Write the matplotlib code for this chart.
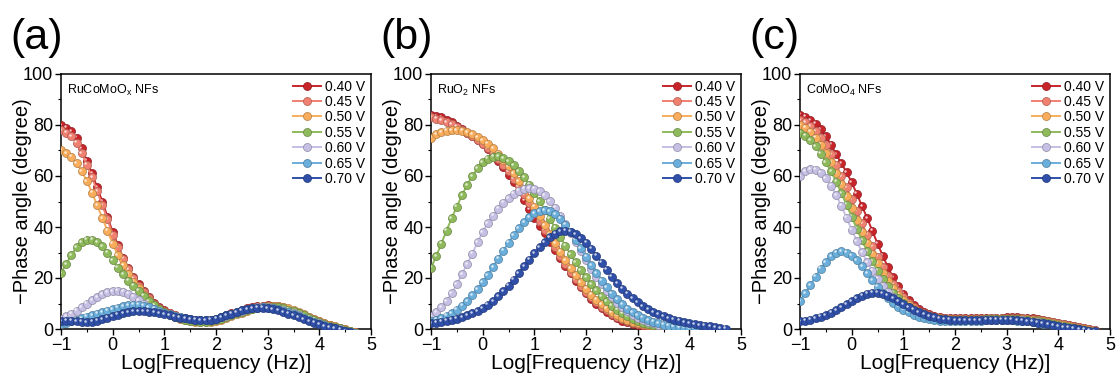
import numpy as np
import matplotlib
matplotlib.use("Agg")
import matplotlib.pyplot as plt
from matplotlib import transforms as mtransforms
from matplotlib.colors import to_rgb

plt.rcParams['font.family'] = ['Liberation Sans', 'DejaVu Sans']
plt.rcParams['mathtext.fontset'] = 'custom'
plt.rcParams['mathtext.rm'] = 'Liberation Sans'
plt.rcParams['mathtext.it'] = 'Liberation Sans'

# ---------------- data ----------------
log_freq = [-1.0, -0.9, -0.8, -0.7, -0.6, -0.5, -0.4, -0.3, -0.2, -0.1,
            0.0, 0.1, 0.2, 0.3, 0.4, 0.5, 0.6, 0.7, 0.8, 0.9,
            1.0, 1.1, 1.2, 1.3, 1.4, 1.5, 1.6, 1.7, 1.8, 1.9,
            2.0, 2.1, 2.2, 2.3, 2.4, 2.5, 2.6, 2.7, 2.8, 2.9,
            3.0, 3.1, 3.2, 3.3, 3.4, 3.5, 3.6, 3.7, 3.8, 3.9,
            4.0, 4.1, 4.2, 4.3, 4.4, 4.5, 4.6, 4.7]

potentials = ["0.40 V", "0.45 V", "0.50 V", "0.55 V", "0.60 V", "0.65 V", "0.70 V"]
colors = ["#c8252b", "#f08070", "#f9ad5c", "#8fba5c", "#c5c0e4", "#6aaedb", "#2f4fa8"]

# (a) RuCoMoOx NFs
a_040 = [80, 79, 77.5, 75, 71, 66, 61, 55.5, 50, 44,
         38, 33, 28, 24, 20.5, 17.5, 15, 12.5, 10.3, 8.6,
         7.3, 6.3, 5.5, 4.9, 4.4, 4.0, 3.7, 3.5, 3.5, 3.7,
         4.1, 4.7, 5.4, 6.1, 6.8, 7.5, 8.1, 8.6, 9.0, 9.2,
         9.3, 9.2, 8.9, 8.4, 7.8, 7.0, 6.2, 5.3, 4.5, 3.7,
         2.9, 2.1, 1.4, 0.8, 0.3, -0.2, -0.8, -1.4]
a_045 = [78, 77, 75.5, 73, 69, 64.5, 59.5, 54, 48.5, 43,
         37, 32, 27.5, 23.5, 20, 17, 14.5, 12, 10, 8.4,
         7.1, 6.1, 5.3, 4.7, 4.2, 3.8, 3.5, 3.3, 3.3, 3.5,
         3.9, 4.4, 5.1, 5.8, 6.5, 7.2, 7.8, 8.4, 8.8, 9.1,
         9.2, 9.2, 8.9, 8.5, 7.9, 7.1, 6.3, 5.4, 4.6, 3.8,
         3.0, 2.2, 1.5, 0.9, 0.4, -0.1, -0.7, -1.3]
a_050 = [70, 69, 67.5, 65, 62, 58, 53.5, 48.5, 43.5, 38.5,
         33.5, 29, 25, 21.5, 18.5, 16, 13.5, 11.3, 9.4, 7.9,
         6.6, 5.6, 4.8, 4.1, 3.6, 3.2, 2.9, 2.7, 2.7, 2.9,
         3.2, 3.7, 4.3, 5.0, 5.7, 6.4, 7.1, 7.7, 8.2, 8.6,
         8.9, 9.0, 8.9, 8.6, 8.1, 7.4, 6.6, 5.8, 4.9, 4.0,
         3.2, 2.4, 1.7, 1.0, 0.5, 0.0, -0.6, -1.2]
a_055 = [22, 25.5, 29, 32, 34, 35, 35, 34, 32.5, 30,
         27, 24, 21.5, 19, 17, 15, 13, 11, 9.3, 7.8,
         6.6, 5.6, 4.8, 4.2, 3.7, 3.3, 3.0, 2.9, 2.9, 3.1,
         3.5, 4.0, 4.7, 5.4, 6.1, 6.8, 7.4, 8.0, 8.4, 8.7,
         8.8, 8.8, 8.6, 8.2, 7.6, 6.9, 6.1, 5.3, 4.4, 3.6,
         2.8, 2.0, 1.3, 0.7, 0.2, -0.3, -0.9, -1.5]
a_060 = [4, 5, 6, 7.2, 8.5, 10, 11.3, 12.5, 13.6, 14.4,
         14.9, 15, 14.6, 13.8, 12.6, 11.2, 9.9, 8.7, 7.7, 6.8,
         6.1, 5.5, 5.0, 4.6, 4.2, 3.9, 3.6, 3.4, 3.4, 3.6,
         4.0, 4.6, 5.2, 5.9, 6.6, 7.2, 7.8, 8.2, 8.5, 8.6,
         8.6, 8.4, 8.0, 7.5, 6.8, 6.1, 5.3, 4.5, 3.7, 2.9,
         2.2, 1.5, 0.9, 0.4, -0.1, -0.6, -1.1, -1.6]
a_065 = [2, 2.5, 3, 3.6, 4.2, 4.8, 5.4, 6.0, 6.6, 7.2,
         7.8, 8.4, 8.9, 9.3, 9.5, 9.5, 9.2, 8.6, 7.9, 7.1,
         6.4, 5.7, 5.1, 4.6, 4.2, 3.9, 3.6, 3.4, 3.4, 3.6,
         4.0, 4.6, 5.3, 6.0, 6.7, 7.3, 7.8, 8.2, 8.4, 8.5,
         8.4, 8.2, 7.8, 7.2, 6.6, 5.9, 5.1, 4.3, 3.5, 2.8,
         2.1, 1.4, 0.8, 0.3, -0.2, -0.7, -1.2, -1.7]
a_070 = [3, 3.2, 3.2, 3.0, 2.8, 2.7, 2.8, 3.2, 3.8, 4.4,
         5.0, 5.6, 6.2, 6.7, 7.0, 7.1, 7.0, 6.8, 6.5, 6.1,
         5.7, 5.3, 4.9, 4.5, 4.2, 3.9, 3.6, 3.4, 3.4, 3.6,
         4.0, 4.6, 5.3, 6.0, 6.7, 7.3, 7.8, 8.1, 8.3, 8.3,
         8.1, 7.8, 7.3, 6.7, 6.0, 5.3, 4.6, 3.8, 3.1, 2.4,
         1.8, 1.2, 0.7, 0.2, -0.3, -0.8, -1.3, -1.8]

# (b) RuO2 NFs
b_040 = [84, 83.5, 83, 82, 81, 79.8, 78.5, 77, 75.5, 74,
         72.5, 70.5, 68.5, 66, 63.5, 60.5, 57.5, 54, 50.5, 47,
         43.5, 40.5, 37.5, 34, 30.8, 27.7, 24.7, 21.8, 19.0, 16.4,
         14.0, 11.8, 9.8, 8.1, 6.6, 5.3, 4.2, 3.3, 2.6, 2.0,
         1.5, 1.1, 0.8, 0.5, 0.3, 0.1, 0.0, -0.2, -0.4, -0.6,
         -0.8, -1.0, -1.2, -1.4, -1.6, -1.8, -2.0, -2.2]
b_045 = [83, 82.5, 82, 81.2, 80.3, 79.3, 78.2, 77, 75.6, 74.2,
         72.7, 71, 69, 66.8, 64.4, 61.8, 59, 56, 52.8, 49.5,
         46, 42.5, 39, 35.5, 32, 28.7, 25.5, 22.4, 19.6, 17,
         14.6, 12.4, 10.5, 8.8, 7.3, 6.0, 4.9, 4.0, 3.2, 2.5,
         2.0, 1.5, 1.1, 0.8, 0.5, 0.3, 0.1, 0.0, -0.2, -0.4,
         -0.6, -0.8, -1.0, -1.2, -1.4, -1.6, -1.8, -2.0]
b_050 = [75, 76.3, 77.2, 77.8, 78, 78, 77.7, 77.1, 76.3, 75.3,
         74.1, 72.6, 70.8, 68.7, 66.4, 63.8, 61, 58, 54.8, 51.4,
         48, 44.4, 40.8, 37.2, 33.7, 30.3, 27, 23.9, 21, 18.3,
         15.8, 13.5, 11.5, 9.7, 8.1, 6.7, 5.5, 4.5, 3.6, 2.9,
         2.3, 1.8, 1.4, 1.0, 0.7, 0.5, 0.3, 0.1, 0.0, -0.2,
         -0.4, -0.6, -0.8, -1.0, -1.2, -1.4, -1.6, -1.8]
b_055 = [24, 28.5, 33.5, 38.5, 43.5, 48, 52.5, 56.5, 60, 63,
         65.3, 66.8, 67.6, 67.7, 67.1, 65.9, 64.2, 62, 59.5, 56.6,
         53.5, 50.2, 46.8, 43.3, 39.7, 36.2, 32.7, 29.3, 26.1, 23.1,
         20.2, 17.5, 15.1, 12.9, 10.9, 9.1, 7.6, 6.2, 5.0, 4.0,
         3.2, 2.5, 1.9, 1.4, 1.0, 0.7, 0.5, 0.3, 0.1, 0.0,
         -0.2, -0.4, -0.6, -0.8, -1.0, -1.2, -1.4, -1.6]
b_060 = [5, 6.5, 8.5, 11, 14, 17.5, 21.5, 25.5, 29.5, 34,
         38, 41.5, 44.5, 47.2, 49.5, 51.4, 53, 54.2, 55, 55.3,
         55, 54, 52.4, 50.2, 47.5, 44.4, 41, 37.5, 34, 30.5,
         27, 23.6, 20.4, 17.5, 14.8, 12.4, 10.3, 8.5, 6.9, 5.6,
         4.5, 3.6, 2.8, 2.2, 1.7, 1.3, 0.9, 0.6, 0.4, 0.2,
         0.1, 0.0, -0.2, -0.4, -0.6, -0.8, -1.0, -1.2]
b_065 = [3, 3.6, 4.3, 5.2, 6.3, 7.6, 9.2, 11, 13.2, 15.6,
         18.3, 21.2, 24.3, 27.5, 30.7, 33.8, 36.8, 39.5, 41.8, 43.8,
         45.3, 46.3, 46.6, 46.2, 45.1, 43.3, 40.9, 38.1, 35, 31.7,
         28.4, 25.1, 22, 19, 16.3, 13.8, 11.6, 9.7, 8, 6.6,
         5.4, 4.4, 3.5, 2.8, 2.2, 1.7, 1.3, 1.0, 0.7, 0.5,
         0.3, 0.2, 0.1, 0.0, -0.2, -0.4, -0.6, -0.8]
b_070 = [2.2, 2.5, 2.8, 3.2, 3.6, 4.1, 4.7, 5.4, 6.2, 7.1,
         8.2, 9.5, 11, 12.8, 14.8, 17, 19.4, 22, 24.6, 27.2,
         29.7, 32, 34.1, 35.9, 37.3, 38.3, 38.6, 38.2, 37.1, 35.6,
         33.8, 31.5, 28.8, 26, 23.2, 20.5, 18, 15.8, 13.8, 12,
         10.4, 9, 7.8, 6.7, 5.8, 5.0, 4.3, 3.7, 3.2, 2.7,
         2.3, 1.9, 1.6, 1.3, 1.0, 0.7, 0.4, 0.1]

# (c) CoMoO4 NFs
c_040 = [84, 83.2, 82, 80.5, 78.3, 75.5, 72.3, 68.5, 65, 61.5,
         57.5, 53, 48.2, 43.5, 38.5, 33.5, 28.8, 24.3, 20.3, 16.8,
         13.8, 11.4, 9.4, 7.8, 6.6, 5.7, 5.1, 4.7, 4.5, 4.4,
         4.3, 4.3, 4.3, 4.3, 4.3, 4.3, 4.4, 4.4, 4.5, 4.5,
         4.6, 4.6, 4.6, 4.5, 4.4, 4.2, 3.9, 3.6, 3.3, 2.9,
         2.5, 2.1, 1.6, 1.2, 0.8, 0.4, 0.0, -0.4]
c_045 = [82, 81, 79.5, 77.5, 75, 72, 68.5, 64.5, 60, 55.5,
         51, 46.3, 41.6, 37, 32.5, 28.3, 24.4, 20.8, 17.6, 14.8,
         12.4, 10.3, 8.6, 7.2, 6.1, 5.3, 4.8, 4.4, 4.2, 4.1,
         4.0, 4.0, 4.0, 4.0, 4.0, 4.1, 4.1, 4.2, 4.2, 4.3,
         4.3, 4.3, 4.3, 4.2, 4.1, 3.9, 3.7, 3.4, 3.1, 2.7,
         2.3, 1.9, 1.5, 1.1, 0.7, 0.3, -0.1, -0.5]
c_050 = [80, 79, 77.3, 75, 72.3, 69, 65.3, 61.2, 56.8, 52.2,
         47.5, 42.8, 38.2, 33.8, 29.6, 25.7, 22.1, 18.9, 16, 13.5,
         11.3, 9.5, 8, 6.8, 5.8, 5.1, 4.6, 4.2, 4.0, 3.9,
         3.8, 3.8, 3.8, 3.8, 3.8, 3.9, 3.9, 4.0, 4.0, 4.1,
         4.1, 4.1, 4.1, 4.0, 3.9, 3.7, 3.5, 3.2, 2.9, 2.5,
         2.1, 1.7, 1.3, 0.9, 0.5, 0.1, -0.3, -0.7]
c_055 = [77, 75.8, 74, 71.7, 68.8, 65.5, 61.8, 57.7, 53.3, 48.7,
         44, 39.3, 34.8, 30.5, 26.5, 22.9, 19.6, 16.7, 14.2, 12,
         10.1, 8.5, 7.2, 6.1, 5.3, 4.7, 4.2, 3.9, 3.7, 3.6,
         3.6, 3.6, 3.6, 3.6, 3.7, 3.7, 3.8, 3.8, 3.9, 3.9,
         3.9, 3.9, 3.8, 3.7, 3.5, 3.3, 3.0, 2.7, 2.3, 1.9,
         1.5, 1.1, 0.7, 0.3, -0.1, -0.5, -0.9, -1.3]
c_060 = [60, 62, 62.7, 62.5, 61.3, 59.2, 56.2, 52.5, 48.3, 43.7,
         39, 34.5, 30.2, 26.3, 22.8, 19.7, 17, 14.6, 12.5, 10.7,
         9.1, 7.8, 6.7, 5.8, 5.0, 4.4, 4.0, 3.7, 3.5, 3.4,
         3.4, 3.4, 3.4, 3.4, 3.5, 3.5, 3.6, 3.6, 3.7, 3.7,
         3.7, 3.6, 3.5, 3.4, 3.2, 2.9, 2.6, 2.3, 1.9, 1.5,
         1.1, 0.7, 0.4, 0.0, -0.3, -0.7, -1.1, -1.5]
c_065 = [11, 14, 17.2, 20.5, 23.6, 26.3, 28.5, 29.9, 30.4, 30,
         28.8, 27, 24.7, 22, 19.2, 16.6, 14.2, 12.1, 10.3, 8.8,
         7.5, 6.5, 5.6, 4.9, 4.3, 3.9, 3.5, 3.3, 3.1, 3.1,
         3.1, 3.1, 3.2, 3.2, 3.3, 3.3, 3.4, 3.4, 3.5, 3.5,
         3.5, 3.4, 3.3, 3.2, 3.0, 2.7, 2.4, 2.1, 1.8, 1.4,
         1.0, 0.7, 0.3, 0.0, -0.4, -0.8, -1.2, -1.6]
c_070 = [3, 3.3, 3.7, 4.2, 4.8, 5.5, 6.4, 7.4, 8.5, 9.7,
         10.9, 12, 13, 13.8, 14.2, 14.2, 13.8, 13, 12, 10.9,
         9.7, 8.6, 7.5, 6.6, 5.8, 5.1, 4.6, 4.1, 3.8, 3.6,
         3.5, 3.4, 3.4, 3.4, 3.5, 3.5, 3.6, 3.6, 3.7, 3.7,
         3.7, 3.6, 3.5, 3.3, 3.1, 2.8, 2.5, 2.2, 1.8, 1.5,
         1.1, 0.8, 0.5, 0.2, 0.0, -0.3, -0.6, -0.9]

panels = [
    ("(a)", "RuCoMoO$_\\mathregular{x}$ NFs", [a_040, a_045, a_050, a_055, a_060, a_065, a_070]),
    ("(b)", "RuO$_\\mathregular{2}$ NFs", [b_040, b_045, b_050, b_055, b_060, b_065, b_070]),
    ("(c)", "CoMoO$_\\mathregular{4}$ NFs", [c_040, c_045, c_050, c_055, c_060, c_065, c_070]),
]

# ---------------- figure ----------------
W, H = 1117, 376
fig = plt.figure(figsize=(W / 100, H / 100), dpi=100)

ax_lefts = [61, 431, 800]
ax_w = 310
ax_top, ax_bot = 74, 329


def darker(c, f=0.72):
    r, g, b = to_rgb(c)
    return (r * f, g * f, b * f)


for (letter, label, series), left in zip(panels, ax_lefts):
    ax = fig.add_axes([left / W, (H - ax_bot) / H, ax_w / W, (ax_bot - ax_top) / H])
    hl_trans = mtransforms.offset_copy(ax.transData, fig=fig, x=-1.0, y=1.0, units='points')
    handles = []
    for vals, col, pot in zip(series, colors, potentials):
        h, = ax.plot(log_freq, vals, '-', color=col, lw=1.4, marker='o', ms=5.8,
                     mfc=col, mec=darker(col), mew=0.5, label=pot, zorder=3)
        ax.plot(log_freq, vals, linestyle='none', marker='o', ms=1.8, mfc='white',
                mec='none', alpha=0.75, transform=hl_trans, zorder=3)
        handles.append(h)

    ax.set_xlim(-1, 5)
    ax.set_ylim(0, 100)
    ax.set_xticks([-1, 0, 1, 2, 3, 4, 5])
    ax.set_xticks(np.arange(-0.5, 5, 1.0), minor=True)
    ax.set_yticks([0, 20, 40, 60, 80, 100])
    ax.set_yticks([10, 30, 50, 70, 90], minor=True)
    ax.tick_params(which='major', direction='out', length=4, width=1.0, labelsize=13, pad=1.5)
    ax.tick_params(which='minor', direction='out', length=2.5, width=0.8)
    for sp in ax.spines.values():
        sp.set_linewidth(1.1)
    ax.set_xlabel("Log[Frequency (Hz)]", fontsize=15, labelpad=0)
    ax.set_ylabel("\u2212Phase angle (degree)", fontsize=14.5)
    ax.yaxis.set_label_coords(-0.092, 0.5)

    ax.text(0.02, 0.965, label, transform=ax.transAxes, fontsize=9, va='top', ha='left')
    ax.legend(handles=handles, loc='upper right', frameon=False, fontsize=10,
              handlelength=2.0, handletextpad=0.3, labelspacing=0.1,
              borderaxespad=0.1, borderpad=0.3)

    fig.text((left - 51) / W, 1 - 38 / H, letter, fontsize=31, ha='left', va='center')

fig.savefig("out.png", dpi=100)
